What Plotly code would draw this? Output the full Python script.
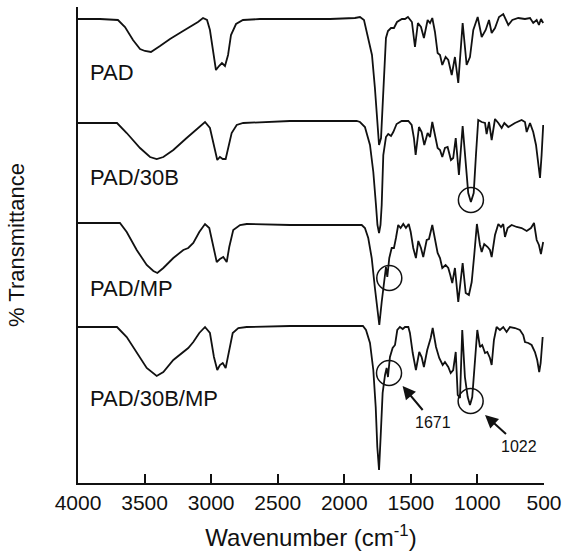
import plotly.graph_objects as go

# ---------------- data (wavenumber in cm-1, transmittance in arbitrary stacked units) -------------
pad_wn = [4000, 3835, 3700, 3647, 3587, 3534, 3497, 3452, 3384, 3309, 3211, 3136, 3099, 3061, 3031,
          3009, 2986, 2964, 2941, 2919, 2896, 2873, 2851, 2813, 2761, 2633, 2333, 2107, 1920, 1882,
          1852, 1830, 1792, 1770, 1755, 1739, 1724, 1709, 1698, 1687, 1672, 1649, 1627, 1604, 1567,
          1544, 1522, 1492, 1469, 1447, 1424, 1402, 1374, 1356, 1339, 1319, 1299, 1281, 1264, 1239,
          1219, 1193, 1169, 1144, 1111, 1081, 1056, 1031, 998, 968, 938, 913, 893, 868, 838, 806,
          768, 738, 693, 643, 605, 581, 555, 538, 523, 506]
pad_t = [464, 464, 463, 456, 443, 434, 432, 431, 437, 444, 452, 458, 461, 465, 463,
         453, 431, 413, 417, 420, 417, 428, 448, 459, 463, 464, 464, 464, 465, 466,
         463, 451, 428, 395, 363, 338, 345, 383, 423, 445, 452, 455, 455, 461, 464,
         464, 466, 461, 436, 460, 456, 445, 463, 460, 465, 451, 430, 428, 418, 426,
         423, 408, 426, 400, 460, 418, 426, 453, 466, 446, 453, 463, 450, 455, 466, 469,
         458, 463, 465, 464, 465, 460, 463, 458, 464, 460]

pad30b_wn = [4000, 3707, 3634, 3534, 3459, 3409, 3359, 3284, 3184, 3084, 3046, 3009, 2979, 2954,
             2934, 2913, 2891, 2871, 2846, 2808, 2759, 2408, 1907, 1882, 1845, 1807, 1782, 1762,
             1751, 1739, 1728, 1719, 1707, 1687, 1670, 1649, 1632, 1607, 1569, 1519, 1494, 1477,
             1464, 1439, 1419, 1399, 1374, 1356, 1339, 1319, 1299, 1281, 1264, 1244, 1224, 1199,
             1182, 1163, 1139, 1111, 1088, 1069, 1049, 1028, 1011, 994, 968, 943, 931, 913, 893,
             868, 843, 818, 798, 768, 718, 668, 643, 630, 605, 581, 560, 543, 530, 518, 506]
pad30b_t = [360, 360, 350, 335, 326, 324, 326, 333, 345, 356, 361, 355, 336, 323,
            326, 324, 324, 336, 350, 358, 360, 362, 362, 361, 356, 338, 311, 278,
            258, 250, 258, 278, 328, 346, 349, 347, 351, 359, 362, 362, 358, 345,
            328, 356, 351, 338, 350, 346, 361, 348, 335, 333, 326, 335, 336, 323,
            325, 345, 308, 357, 318, 290, 281, 290, 328, 363, 361, 360, 349, 361, 343,
            364, 360, 355, 360, 356, 360, 363, 361, 351, 360, 351, 338, 321, 305, 328, 358]

padmp_wn = [4000, 3685, 3634, 3559, 3484, 3434, 3404, 3359, 3284, 3209, 3172, 3134, 3089, 3046,
            3014, 2984, 2958, 2934, 2909, 2883, 2864, 2834, 2783, 2733, 2408, 1869, 1845, 1820,
            1794, 1770, 1752, 1737, 1719, 1700, 1687, 1677, 1662, 1644, 1627, 1612, 1595, 1577,
            1557, 1537, 1516, 1501, 1482, 1462, 1444, 1424, 1407, 1381, 1364, 1339, 1319, 1299,
            1281, 1264, 1239, 1219, 1204, 1189, 1169, 1144, 1111, 1088, 1064, 1043, 1024, 1004,
            981, 968, 949, 923, 906, 893, 868, 843, 823, 806, 793, 773, 743, 705, 668, 630, 598,
            575, 555, 538, 523, 506]
padmp_t = [260, 260, 251, 233, 218, 212, 210, 215, 225, 233, 235, 240, 251, 259,
           255, 236, 221, 224, 226, 221, 236, 253, 258, 259, 258, 258, 255, 245,
           225, 195, 171, 158, 181, 206, 216, 206, 225, 235, 235, 245, 258, 255,
           259, 255, 259, 251, 235, 225, 242, 235, 226, 243, 244, 258, 245, 230,
           225, 215, 218, 215, 208, 200, 215, 181, 220, 190, 188, 201, 228, 259,
           238, 231, 239, 236, 233, 226, 248, 259, 256, 259, 246, 255, 258, 256, 255, 252, 255,
           260, 243, 238, 229, 241]

pad30bmp_wn = [4000, 3707, 3634, 3559, 3484, 3409, 3359, 3284, 3209, 3172, 3134, 3089, 3046, 3009,
               2979, 2954, 2934, 2913, 2891, 2868, 2838, 2796, 2733, 2408, 1860, 1837, 1807, 1782,
               1764, 1752, 1739, 1727, 1712, 1694, 1682, 1672, 1657, 1637, 1619, 1602, 1582, 1561,
               1544, 1519, 1507, 1486, 1462, 1437, 1419, 1402, 1377, 1351, 1336, 1311, 1287, 1261,
               1244, 1219, 1201, 1182, 1163, 1148, 1131, 1114, 1094, 1073, 1056, 1039, 1019, 1001,
               981, 964, 943, 926, 906, 893, 876, 856, 831, 806, 781, 756, 718, 681, 656, 643, 618,
               593, 568, 551, 536, 525, 510]
pad30bmp_t = [156, 156, 146, 130, 115, 107, 111, 123, 131, 135, 141, 150, 156, 150,
              126, 113, 118, 120, 115, 130, 150, 155, 156, 157, 157, 153, 140, 113,
              76, 36, 13, 46, 90, 108, 115, 106, 126, 135, 138, 153, 156, 154,
              156, 156, 150, 130, 113, 131, 126, 116, 133, 145, 155, 136, 125, 118,
              121, 116, 110, 113, 131, 88, 85, 153, 106, 86, 78, 86, 123, 153,
              136, 138, 130, 131, 125, 118, 143, 156, 153, 156, 151, 156, 155, 153, 148, 141, 140,
              138, 131, 123, 111, 120, 146]

series_names = ["PAD", "PAD/30B", "PAD/MP", "PAD/30B/MP"]
series_wn = [pad_wn, pad30b_wn, padmp_wn, pad30bmp_wn]
series_t = [pad_t, pad30b_t, padmp_t, pad30bmp_t]
label_wn = [3925, 3925, 3925, 3925]
label_t = [411, 306, 195, 85]

# highlighted bands (circles): centre wavenumber, centre transmittance
circle_wn = [1049, 1662, 1664, 1051]
circle_t = [283, 205, 110, 82]
circle_rx = 94
circle_ry = 12.5

# band annotations: text (placed at arrow tail) and arrow head
band_text = ["1671", "1022"]
band_text_wn = [1336, 686]
band_text_t = [61, 37]
arrow_head_wn = [1562, 943]
arrow_head_t = [97, 68]

tick_vals = [4000, 3500, 3000, 2500, 2000, 1500, 1000, 500]

FONT = "Liberation Sans, Arial, Helvetica, sans-serif"
INK = "#111111"

fig = go.Figure()
for name, wn, t in zip(series_names, series_wn, series_t):
    fig.add_trace(go.Scatter(x=wn, y=t, mode="lines", name=name,
                             line=dict(color=INK, width=1.8), showlegend=False,
                             hoverinfo="skip"))

for name, x, y in zip(series_names, label_wn, label_t):
    fig.add_annotation(x=x, y=y, xref="x", yref="y", text=name, showarrow=False,
                       xanchor="left", yanchor="middle",
                       font=dict(family=FONT, size=22, color=INK))

for cx, cy in zip(circle_wn, circle_t):
    fig.add_shape(type="circle", xref="x", yref="y",
                  x0=cx - circle_rx, x1=cx + circle_rx, y0=cy - circle_ry, y1=cy + circle_ry,
                  line=dict(color=INK, width=1.5))

for txt, tx, ty, hx, hy in zip(band_text, band_text_wn, band_text_t, arrow_head_wn, arrow_head_t):
    fig.add_annotation(x=hx, y=hy, ax=tx, ay=ty, xref="x", yref="y", axref="x", ayref="y",
                       text=txt, showarrow=True, arrowhead=2, arrowsize=1.3, arrowwidth=2,
                       arrowcolor=INK, borderpad=3,
                       font=dict(family=FONT, size=16, color=INK))

fig.update_layout(
    width=562, height=558,
    margin=dict(l=78, r=18, t=7, b=75, autoexpand=False),
    paper_bgcolor="white", plot_bgcolor="white",
    font=dict(family=FONT, color=INK),
    hovermode=False,
    xaxis=dict(range=[4000, 500], tickvals=tick_vals, ticktext=[str(v) for v in tick_vals],
               ticks="inside", ticklen=9, tickwidth=1.5, tickcolor=INK, automargin=False,
               showline=True, linecolor=INK, linewidth=1.5, showgrid=False, zeroline=False,
               tickfont=dict(family=FONT, size=21, color=INK),
               title=dict(text="Wavenumber (cm<sup>-1</sup>)", standoff=16,
                          font=dict(family=FONT, size=24, color=INK))),
    yaxis=dict(range=[0, 476], showticklabels=False, ticks="", showline=True, automargin=False,
               linecolor=INK, linewidth=1.5, showgrid=False, zeroline=False,
               title=dict(text="% Transmittance", standoff=46,
                          font=dict(family=FONT, size=22, color=INK))),
)

fig.write_html("out.html", config={"displayModeBar": False},
               post_script="document.body.style.margin='0';document.body.style.overflow='hidden';")
